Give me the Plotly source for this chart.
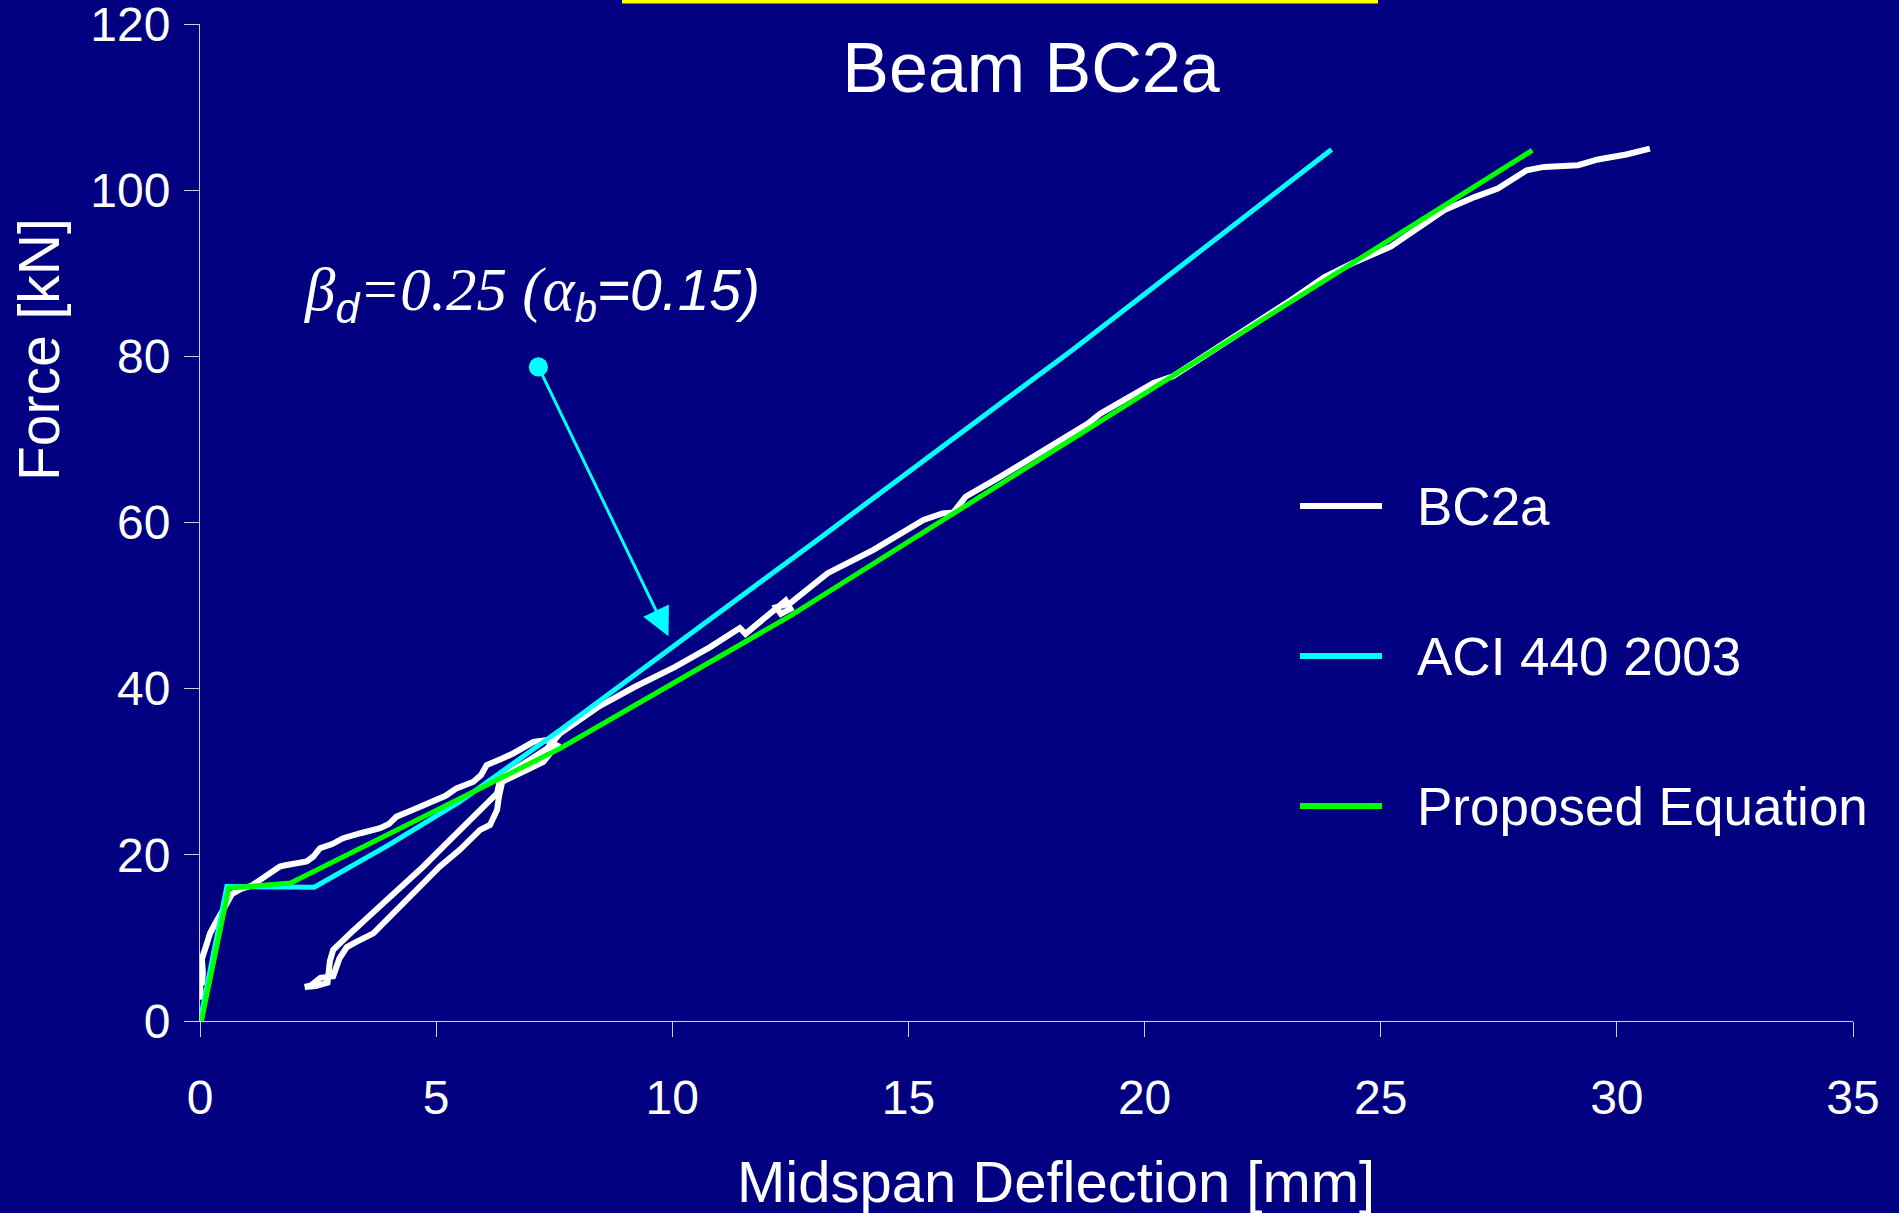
import plotly.graph_objects as go

# ---------------- data ----------------
bc2a_x = [0.00, 0.02, 0.00, 0.05, 0.06, 0.04, 0.11, 0.21, 0.30, 0.40, 0.49, 0.60, 0.68, 0.87, 1.10,
          1.25, 1.44, 1.69, 1.81, 2.26, 2.40, 2.54, 2.80, 3.03, 3.40, 3.81, 4.00, 4.16, 4.50, 4.87,
          5.20, 5.43, 5.79, 5.95, 6.07, 6.40, 6.63, 7.06, 7.34, 7.55,
          7.27, 6.95, 6.63, 6.40, 6.33, 6.29, 6.14, 5.93, 5.50, 5.08, 4.80, 4.52, 4.16, 3.90, 3.67,
          3.30, 3.11, 2.95, 2.89, 2.82, 2.55, 2.35, 2.22,
          2.45, 2.70, 2.72, 2.75, 2.82, 3.00, 3.25, 3.50, 3.81, 4.16, 4.45, 4.73, 5.15, 5.58, 5.93,
          6.29, 6.35, 6.63, 7.00, 7.35, 7.62, 8.00, 8.43, 9.20, 10.05, 10.80, 11.20, 11.43, 11.55,
          11.80, 12.10, 12.40, 12.50, 12.30, 12.20, 12.50, 13.29, 14.26, 15.32, 15.72, 15.95, 16.21,
          16.94, 17.75, 18.80, 19.06, 19.60, 20.19, 20.60, 21.49, 22.30, 23.11, 23.80, 24.40, 25.21,
          26.35, 27.00, 27.48, 28.09, 28.46, 29.18, 29.60, 30.20, 30.70]
bc2a_y = [2.6, 3.3, 4.3, 4.6, 5.9, 7.5, 8.7, 10.5, 11.5, 12.5, 13.4, 14.6, 15.3, 15.9, 16.3,
          16.9, 17.7, 18.6, 18.75, 19.2, 19.8, 20.8, 21.3, 22.0, 22.6, 23.2, 23.7, 24.6, 25.4, 26.2,
          27.1, 28.0, 28.8, 29.6, 30.8, 31.6, 32.2, 33.6, 33.8, 33.2,
          31.2, 30.3, 29.4, 28.8, 27.0, 25.4, 23.6, 23.0, 20.6, 18.6, 17.0, 15.4, 13.4, 12.0, 10.55,
          9.5, 8.9, 7.5, 6.5, 5.4, 5.2, 4.3, 4.1,
          4.2, 4.6, 5.8, 7.2, 8.55, 9.6, 10.9, 12.2, 13.8, 15.8, 17.2, 18.6, 21.0, 23.4, 25.4,
          27.4, 29.0, 30.2, 31.5, 32.8, 34.6, 36.2, 37.8, 40.2, 42.6, 45.0, 46.5, 47.3, 46.6,
          47.8, 49.3, 50.6, 49.6, 49.0, 49.8, 50.3, 53.9, 56.7, 60.3, 61.1, 61.2, 63.1,
          65.5, 68.3, 71.9, 73.1, 74.8, 76.8, 77.6, 80.8, 83.8, 86.8, 89.5, 91.2, 93.2,
          97.6, 99.2, 100.2, 102.4, 102.8, 103.0, 103.7, 104.3, 105.0]

aci_x = [0.00, 0.57, 2.42, 4.00, 5.50, 7.62, 13.00, 18.48, 23.96]
aci_y = [0.0, 16.2, 16.1, 21.2, 26.4, 35.0, 57.6, 80.8, 104.9]

prop_x = [0.03, 0.61, 1.92, 7.62, 12.48, 28.21]
prop_y = [0.0, 16.0, 16.6, 32.8, 48.7, 104.8]

series_names = ["BC2a", "ACI 440 2003", "Proposed Equation"]
series_colors = ["#FFFFFF", "#00FFFF", "#00FF00"]

x_ticks = [0, 5, 10, 15, 20, 25, 30, 35]
y_ticks = [0, 20, 40, 60, 80, 100, 120]

title_text = "Beam BC2a"
x_title = "Midspan Deflection [mm]"
y_title = "Force [kN]"

# annotation arrow: start (dot) and end (arrow head), data coords
arrow_start = (7.15, 78.9)
arrow_end = (9.92, 46.3)
note_pos = (7.02, 87.5)

# ---------------- figure ----------------
SANS = "Arial, 'Liberation Sans', sans-serif"
SERIF = "'Times New Roman', 'Liberation Serif', serif"
BG = "#000080"
AX = "#D0D0E0"

W, H = 1899, 1213
ML, MR, MT, MB = 200, 46, 24, 192
pw = W - ML - MR
ph = H - MT - MB

def px_x(px):
    return (px - ML) / pw

def px_y(py):
    return (H - MB - py) / ph

fig = go.Figure()
all_data = [(bc2a_x, bc2a_y), (aci_x, aci_y), (prop_x, prop_y)]
widths = [6, 5, 5]
for (xs, ys), name, col, w in zip(all_data, series_names, series_colors, widths):
    fig.add_trace(go.Scatter(x=xs, y=ys, mode="lines", name=name,
                             line=dict(color=col, width=w), showlegend=False))

# manual legend (line samples + labels)
leg_rows_px = [506, 656, 806]
for name, col, ry in zip(series_names, series_colors, leg_rows_px):
    fig.add_shape(type="line", xref="paper", yref="paper",
                  x0=px_x(1300), x1=px_x(1382), y0=px_y(ry), y1=px_y(ry),
                  line=dict(color=col, width=6))
    fig.add_annotation(xref="paper", yref="paper", x=px_x(1415), y=px_y(ry),
                       xanchor="left", yanchor="middle", text=name, showarrow=False,
                       font=dict(family=SANS, size=53, color="white"))

# yellow bar at top
fig.add_shape(type="line", xref="paper", yref="paper",
              x0=px_x(622), x1=px_x(1378), y0=px_y(1.5), y1=px_y(1.5),
              line=dict(color="#FFFF00", width=4))

# arrow with dot
fig.add_annotation(x=arrow_end[0], y=arrow_end[1], ax=arrow_start[0], ay=arrow_start[1],
                   xref="x", yref="y", axref="x", ayref="y", text="", showarrow=True,
                   arrowhead=2, arrowsize=1.9, arrowwidth=3, arrowcolor="#00FFFF",
                   arrowside="end+start", startarrowhead=6, startarrowsize=1.6)

note = ('<i>β</i><span style="font-family:Liberation Sans"><i><sub>d</sub></i></span>'
        '<i>=0.25 (α</i>'
        '<span style="font-family:Liberation Sans;font-size:57px"><i><sub>b</sub>=0.15)</i></span>')
fig.add_annotation(x=note_pos[0], y=note_pos[1], xref="x", yref="y", text=note,
                   showarrow=False, xanchor="center", yanchor="middle",
                   font=dict(family=SERIF, size=61, color="white"))

# axis titles as annotations
fig.add_annotation(xref="paper", yref="paper", x=px_x(1056), y=px_y(1181), text=x_title,
                   showarrow=False, xanchor="center", yanchor="middle",
                   font=dict(family=SANS, size=58, color="white"))
fig.add_annotation(xref="paper", yref="paper", x=px_x(39), y=px_y(350), text=y_title,
                   showarrow=False, xanchor="center", yanchor="middle", textangle=-90,
                   font=dict(family=SANS, size=57, color="white"))

fig.update_layout(
    width=W, height=H,
    margin=dict(l=ML, r=MR, t=MT, b=MB, pad=0, autoexpand=False),
    paper_bgcolor=BG, plot_bgcolor=BG,
    title=dict(text=title_text, x=1031 / W, y=1 - 67 / H, xanchor="center", yanchor="middle",
               font=dict(family=SANS, size=70, color="white")),
    showlegend=False,
)
fig.update_xaxes(range=[0, 35], tickvals=x_ticks, showgrid=False, zeroline=False,
                 showline=True, linecolor=AX, linewidth=1, ticks="outside", ticklen=15,
                 tickcolor=AX, tickwidth=1, ticklabelstandoff=19, ticklabeloverflow="allow",
                 automargin=False,
                 tickfont=dict(family=SANS, size=48, color="white"))
fig.update_yaxes(range=[0, 120], tickvals=y_ticks, showgrid=False, zeroline=False,
                 showline=True, linecolor=AX, linewidth=1, ticks="outside", ticklen=15,
                 tickcolor=AX, tickwidth=1, ticklabelstandoff=4, ticklabeloverflow="allow",
                 automargin=False,
                 tickfont=dict(family=SANS, size=48, color="white"))

fig.write_html("out.html", config={"displayModeBar": False},
               post_script="document.body.style.margin='0px';")
